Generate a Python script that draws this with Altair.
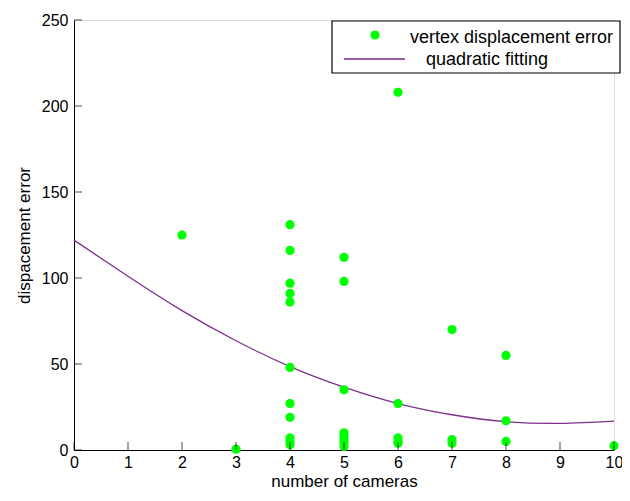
import altair as alt
import pandas as pd

# scatter data: number of cameras vs vertex displacement error
cameras = [2, 3,
           4, 4, 4, 4, 4, 4, 4, 4, 4, 4, 4,
           5, 5, 5, 5, 5, 5, 5, 5,
           6, 6, 6, 6, 6,
           7, 7, 7,
           8, 8, 8,
           10]
errors = [125, 0.5,
          131, 116, 97, 91, 86, 48, 27, 19, 7, 5, 3,
          112, 98, 35, 10, 8, 6, 4, 2,
          208, 27, 7, 5, 4,
          70, 6, 4,
          55, 17, 5,
          2.5]

# quadratic fitting curve
fit_x = [0, 1, 2, 3, 4, 5, 6, 7, 8, 9, 10]
fit_y = [122, 101, 81, 63.5, 48.5, 36.5, 27, 20.5, 16.5, 15.5, 16.8]

x_ticks = [0, 1, 2, 3, 4, 5, 6, 7, 8, 9, 10]
y_ticks = [0, 50, 100, 150, 200, 250]
legend_labels = ["vertex displacement error", "quadratic fitting"]

GREEN = "#00ff00"
PURPLE = "#7e2f8e"
FONT = "Liberation Sans"

pts = pd.DataFrame({"cams": cameras, "err": errors})
fit = pd.DataFrame({"cams": fit_x, "err": fit_y})
xt = pd.DataFrame({"v": x_ticks})
yt = pd.DataFrame({"v": y_ticks})

xscale = alt.Scale(domain=[0, 10], nice=False)
yscale = alt.Scale(domain=[0, 250], nice=False)

xaxis = alt.Axis(title="number of cameras", values=x_ticks, ticks=False, grid=False,
                 labelFontSize=16, titleFontSize=17, labelPadding=4,
                 titleY=36, titleBaseline="alphabetic",
                 labelColor="black", titleColor="black", domainColor="black",
                 labelFont=FONT, titleFont=FONT, titleFontWeight="normal", labelFlush=False)
yaxis = alt.Axis(title="dispacement error", values=y_ticks, ticks=False, grid=False,
                 labelFontSize=16, titleFontSize=17, labelPadding=6,
                 titleX=-50, titleBaseline="middle",
                 labelColor="black", titleColor="black", domainColor="black",
                 labelFont=FONT, titleFont=FONT, titleFontWeight="normal")

points = alt.Chart(pts).mark_circle(size=85, color=GREEN, opacity=1).encode(
    x=alt.X("cams:Q", scale=xscale, axis=xaxis),
    y=alt.Y("err:Q", scale=yscale, axis=yaxis),
)

curve = alt.Chart(fit).mark_line(color=PURPLE, strokeWidth=1.3, interpolate="natural").encode(
    x=alt.X("cams:Q", scale=xscale),
    y=alt.Y("err:Q", scale=yscale),
)

xticks = alt.Chart(xt).mark_tick(orient="vertical", size=8, thickness=1, color="black", yOffset=-4).encode(
    x=alt.X("v:Q", scale=xscale), y=alt.Y("zero:Q", scale=yscale)
).transform_calculate(zero="0")

yticks = alt.Chart(yt).mark_tick(orient="horizontal", size=8, thickness=1, color="black", xOffset=4).encode(
    y=alt.Y("v:Q", scale=yscale), x=alt.X("zero:Q", scale=xscale)
).transform_calculate(zero="0")

leg_df = pd.DataFrame({"label": legend_labels})
legend_box = alt.Chart(leg_df.head(1)).mark_rect(fill="white", stroke="black", strokeWidth=1.2).encode(
    x=alt.value(258), x2=alt.value(546), y=alt.value(1), y2=alt.value(53)
)
legend_pt = alt.Chart(leg_df.head(1)).mark_circle(size=85, color=GREEN, opacity=1).encode(
    x=alt.value(301), y=alt.value(15)
)
legend_line = alt.Chart(leg_df.head(1)).mark_rule(color="#9a5aa8", strokeWidth=2).encode(
    x=alt.value(270), x2=alt.value(331), y=alt.value(39)
)
legend_t1 = alt.Chart(leg_df.iloc[[0]]).mark_text(align="left", baseline="middle", fontSize=18,
                                                   font=FONT, color="black").encode(
    x=alt.value(336), y=alt.value(18), text="label:N"
)
legend_t2 = alt.Chart(leg_df.iloc[[1]]).mark_text(align="left", baseline="middle", fontSize=18,
                                                   font=FONT, color="black").encode(
    x=alt.value(352), y=alt.value(40), text="label:N"
)

chart = alt.layer(curve, points, xticks, yticks, legend_box, legend_pt, legend_line,
                  legend_t1, legend_t2).properties(
    width=540, height=430,
    autosize=alt.AutoSizeParams(type="none"),
    padding={"left": 66, "top": 12, "right": 8, "bottom": 40},
).configure_view(stroke=None).configure(background="white")

chart.save("out.html", embed_options={"renderer": "svg", "actions": False})
